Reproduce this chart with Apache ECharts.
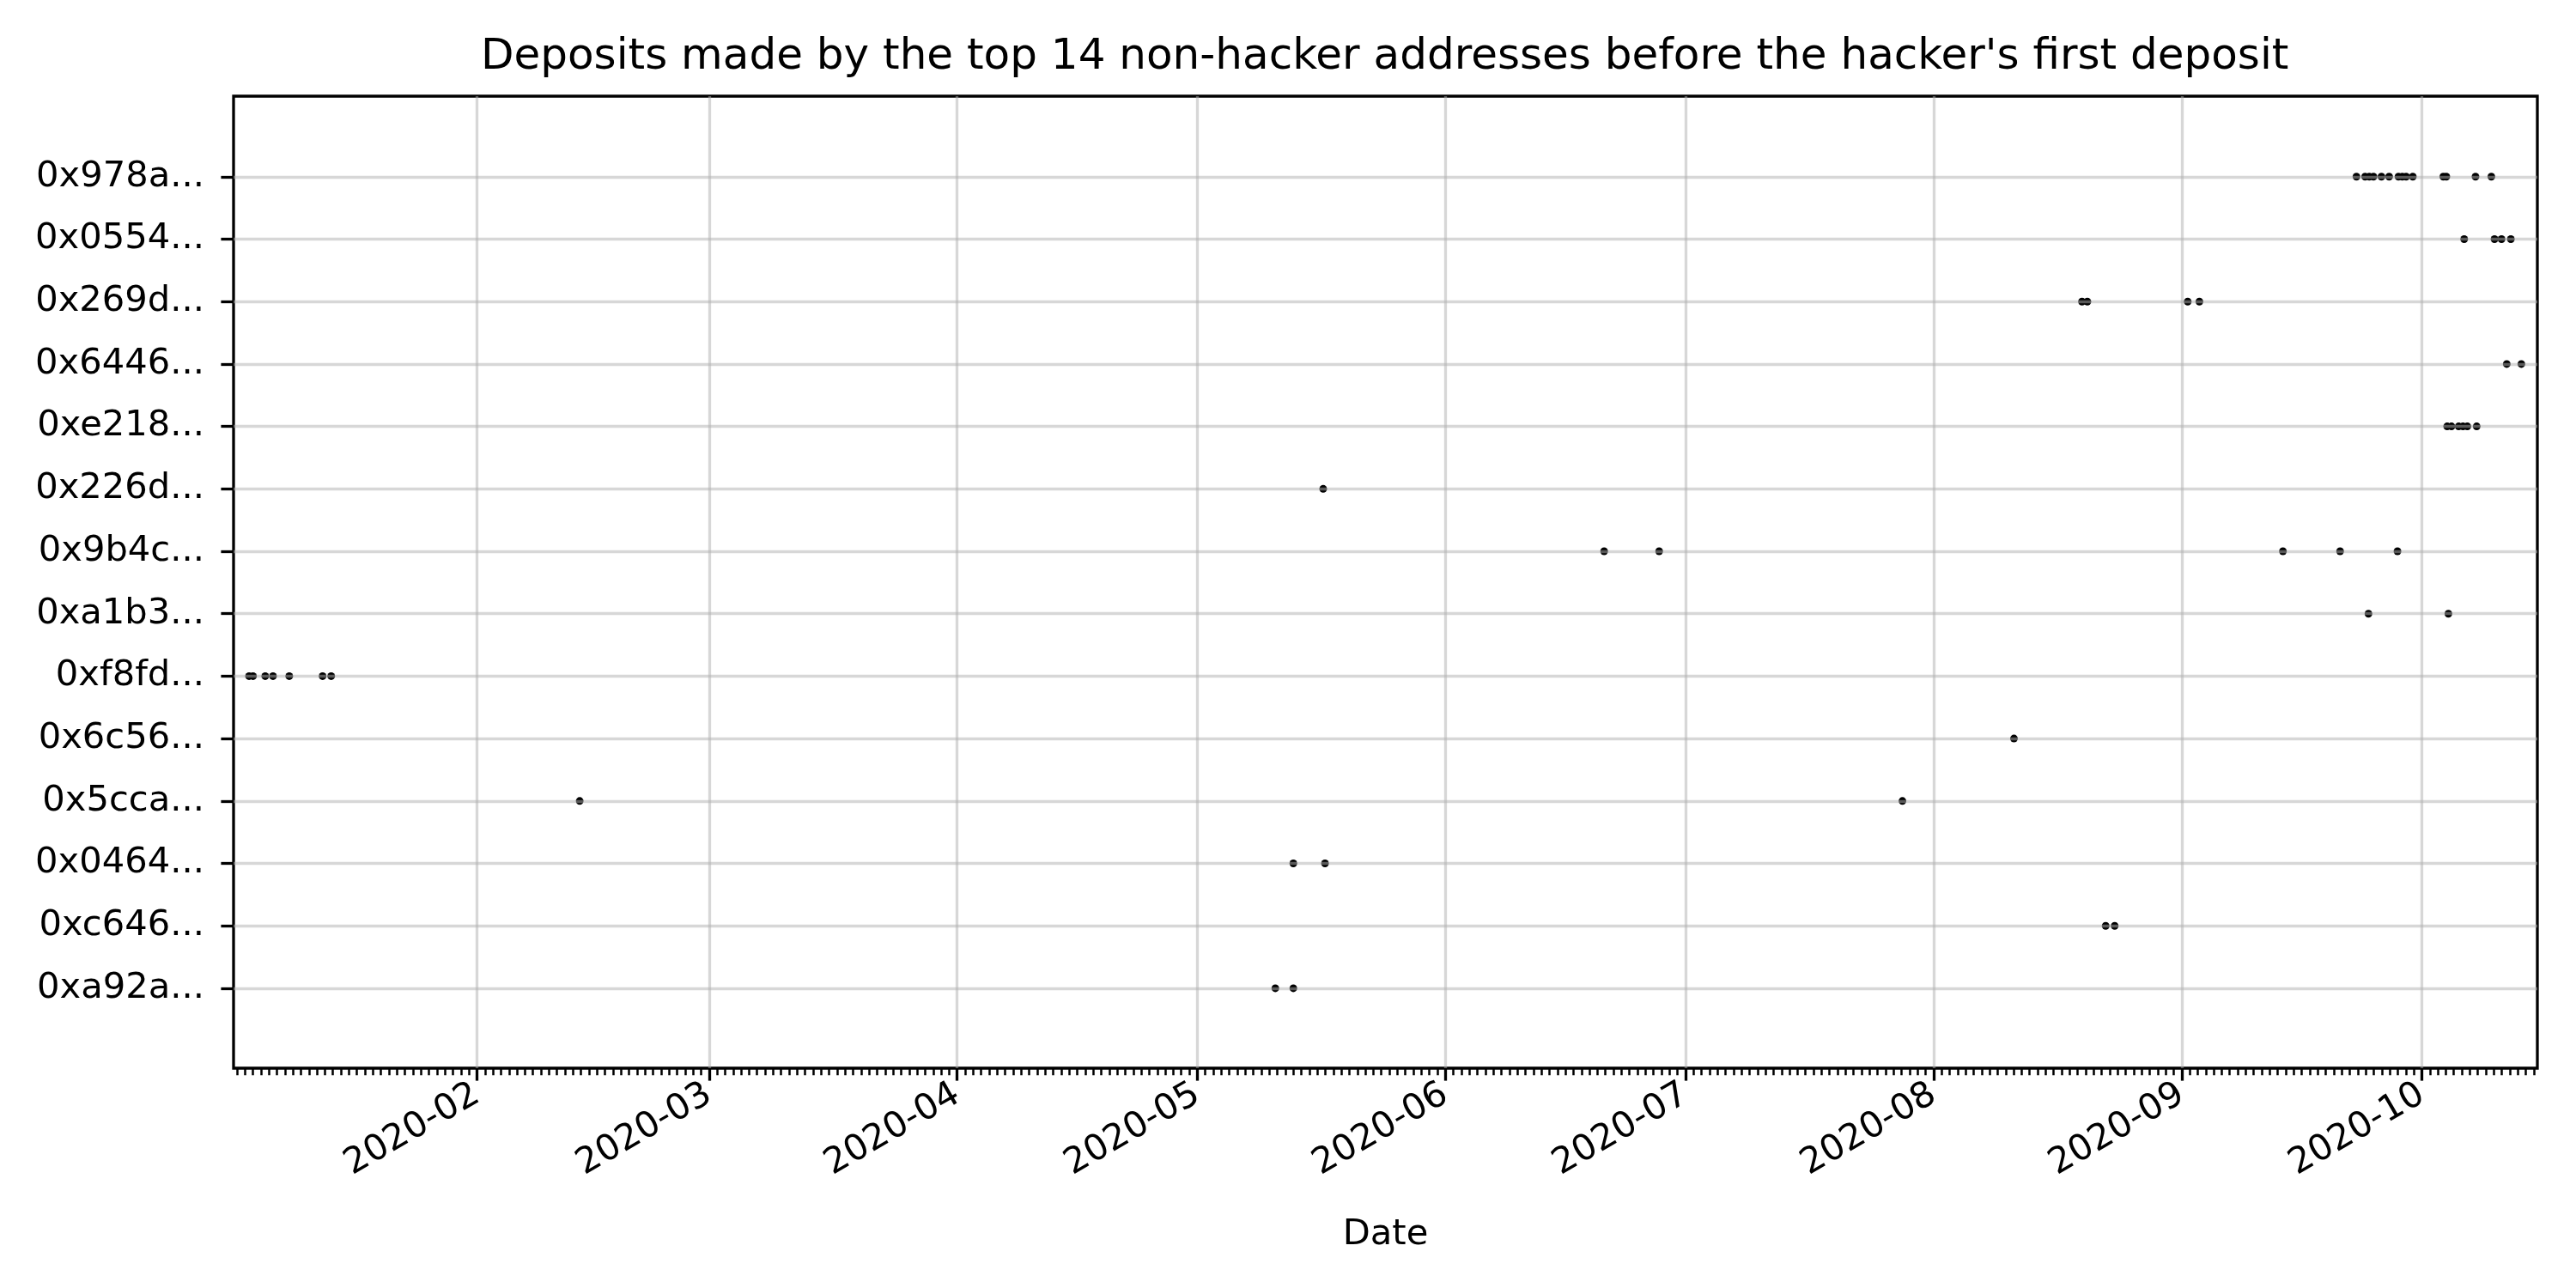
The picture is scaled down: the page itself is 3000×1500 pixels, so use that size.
<!DOCTYPE html>
<html>
<head>
<meta charset="utf-8">
<script src="https://cdn.jsdelivr.net/npm/echarts@6/dist/echarts.min.js"></script>
<style>
html,body{margin:0;padding:0;background:#ffffff;}
#chart{width:3000px;height:1500px;}
</style>
</head>
<body>
<div id="chart"></div>
<script>
// ---- Data (UTC date-times) ----
// Address labels, bottom row first
const addresses = ['0xa92a...', '0xc646...', '0x0464...', '0x5cca...', '0x6c56...', '0xf8fd...', '0xa1b3...',
                   '0x9b4c...', '0x226d...', '0xe218...', '0x6446...', '0x269d...', '0x0554...', '0x978a...'];

const dep_0xa92a = ['2020-05-10 18:00', '2020-05-13 00:00'];
const dep_0xc646 = ['2020-08-22 12:00', '2020-08-23 15:00'];
const dep_0x0464 = ['2020-05-13 00:00', '2020-05-16 23:00'];
const dep_0x5cca = ['2020-02-13 20:00', '2020-07-28 02:30'];
const dep_0x6c56 = ['2020-08-11 01:00'];
const dep_0xf8fd = ['2020-01-03 12:30', '2020-01-04 00:15', '2020-01-05 13:00', '2020-01-06 12:15',
                    '2020-01-08 13:00', '2020-01-12 17:00', '2020-01-13 18:45'];
const dep_0xa1b3 = ['2020-09-24 08:00', '2020-10-04 07:40'];
const dep_0x9b4c = ['2020-06-20 20:00', '2020-06-27 17:00', '2020-09-13 15:30', '2020-09-20 19:00', '2020-09-27 23:00'];
const dep_0x226d = ['2020-05-16 17:30'];
const dep_0xe218 = ['2020-10-04 04:00', '2020-10-04 17:00', '2020-10-05 14:30', '2020-10-06 03:30',
                    '2020-10-06 16:30', '2020-10-07 20:30'];
const dep_0x6446 = ['2020-10-11 14:40', '2020-10-13 10:30'];
const dep_0x269d = ['2020-08-19 13:00', '2020-08-20 05:00', '2020-09-01 18:00', '2020-09-03 05:00'];
const dep_0x0554 = ['2020-10-06 07:00', '2020-10-10 02:00', '2020-10-10 23:00', '2020-10-12 03:00'];
const dep_0x978a = ['2020-09-22 20:00', '2020-09-23 22:00', '2020-09-24 10:30', '2020-09-24 23:00',
                    '2020-09-25 23:00', '2020-09-26 22:00', '2020-09-28 02:00', '2020-09-28 13:30',
                    '2020-09-29 01:00', '2020-09-29 21:00', '2020-10-03 16:30', '2020-10-04 01:30',
                    '2020-10-07 17:00', '2020-10-09 16:30'];

// Tick labels of the date axis
const monthTicks  = ['2020-02-01 00:00', '2020-03-01 00:00', '2020-04-01 00:00', '2020-05-01 00:00', '2020-06-01 00:00',
                     '2020-07-01 00:00', '2020-08-01 00:00', '2020-09-01 00:00', '2020-10-01 00:00'];
const monthLabels = ['2020-02', '2020-03', '2020-04', '2020-05', '2020-06', '2020-07', '2020-08', '2020-09', '2020-10'];
const xRange = ['2020-01-01 14:00', '2020-10-15 10:30'];

const titleText = "Deposits made by the top 14 non-hacker addresses before the hacker's first deposit";
const xAxisName = 'Date';

// ---- Build ----
function t(s) { return Date.parse(s.replace(' ', 'T') + ':00Z'); }
const perRow = [dep_0xa92a, dep_0xc646, dep_0x0464, dep_0x5cca, dep_0x6c56, dep_0xf8fd, dep_0xa1b3,
                dep_0x9b4c, dep_0x226d, dep_0xe218, dep_0x6446, dep_0x269d, dep_0x0554, dep_0x978a];
const points = [];
perRow.forEach((arr, i) => arr.forEach(d => points.push([t(d), i])));

const xMin = t(xRange[0]), xMax = t(xRange[1]);
const DAY = 86400000;
const monthVals = monthTicks.map(t);
const dayVals = [];
for (let v = Math.ceil(xMin / DAY) * DAY; v <= xMax; v += DAY) dayVals.push(v);
const rowVals = addresses.map((_, i) => i);

const FONT = 'DejaVu Sans';
const FS = 41.67;

const chart = echarts.init(document.getElementById('chart'), null, {renderer: 'canvas'});
chart.setOption({
  animation: false,
  backgroundColor: '#ffffff',
  title: {
    text: titleText,
    left: 560, top: 42, padding: 0,
    textStyle: {fontFamily: FONT, fontSize: 50, fontWeight: 'normal', color: '#000000'}
  },
  grid: {
    left: 272, top: 112, width: 2683, height: 1132,
    show: true, backgroundColor: 'transparent', borderColor: '#000000', borderWidth: 3.3,
    containLabel: false
  },
  xAxis: [{
    type: 'value', min: xMin, max: xMax, position: 'bottom',
    name: xAxisName, nameLocation: 'middle', nameGap: 173,
    nameTextStyle: {fontFamily: FONT, fontSize: FS, color: '#000000'},
    axisLine: {show: false, onZero: false},
    axisTick: {show: true, inside: false, length: 14.6, customValues: monthVals,
               lineStyle: {color: '#000000', width: 3.3}},
    axisLabel: {show: true, customValues: monthVals, rotate: 30, margin: 28,
                fontFamily: FONT, fontSize: FS, color: '#000000',
                formatter: v => { const k = monthVals.indexOf(v); return k >= 0 ? monthLabels[k] : ''; }},
    splitLine: {show: true, lineStyle: {color: 'rgba(176,176,176,0.5)', width: 3.3}}
  }, {
    type: 'value', min: xMin, max: xMax, position: 'bottom',
    axisLine: {show: false, onZero: false},
    axisTick: {show: true, inside: false, length: 8.3, customValues: dayVals,
               lineStyle: {color: '#000000', width: 2.5}},
    axisLabel: {show: false},
    splitLine: {show: false}
  }],
  yAxis: {
    type: 'value', min: -1.28, max: 14.29,
    axisLine: {show: false, onZero: false},
    axisTick: {show: true, inside: false, length: 14.6, customValues: rowVals,
               lineStyle: {color: '#000000', width: 3.3}},
    axisLabel: {show: true, customValues: rowVals, margin: 34,
                fontFamily: FONT, fontSize: FS, color: '#000000',
                formatter: v => addresses[Math.round(v)] || ''},
    splitLine: {show: true, lineStyle: {color: 'rgba(176,176,176,0.5)', width: 3.3}}
  },
  series: [{
    type: 'scatter',
    xAxisIndex: 0,
    z: -1,
    data: points,
    symbol: 'circle',
    symbolSize: 9,
    itemStyle: {color: '#000000', opacity: 1},
    emphasis: {disabled: true}
  }]
});
</script>
</body>
</html>
